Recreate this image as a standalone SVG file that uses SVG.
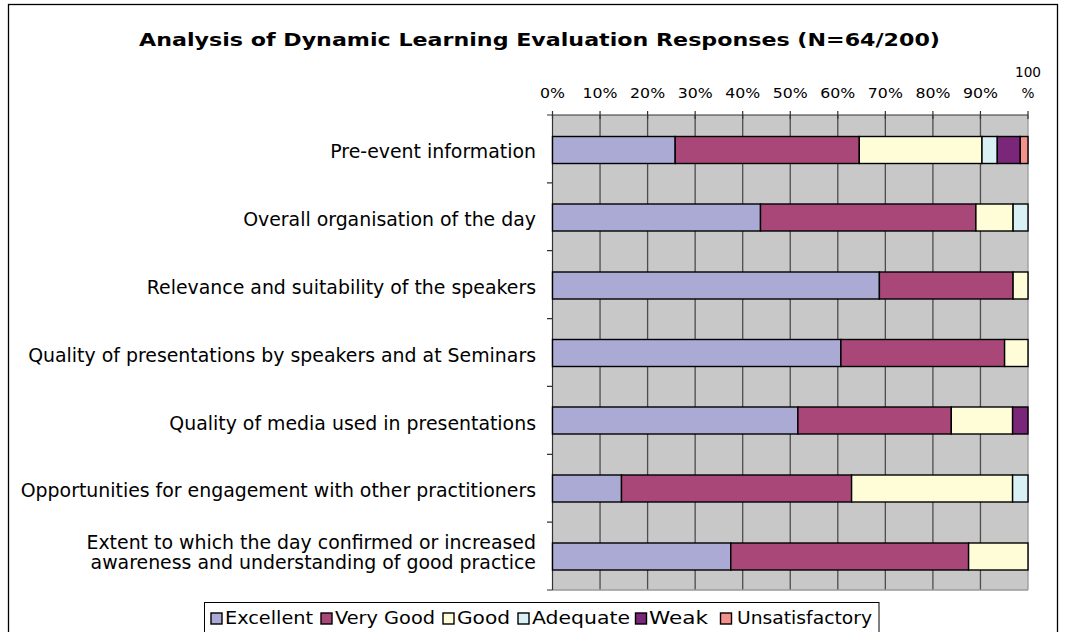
<svg xmlns="http://www.w3.org/2000/svg" width="1067" height="632" viewBox="0 0 1067 632">
<style>
.t{font-family:"DejaVu Sans","Verdana",sans-serif;fill:#000}
.title{font-size:18.5px;font-weight:bold}
.cat{font-size:18.9px;text-anchor:end}
.ax{font-size:14.5px;text-anchor:middle}
.lg{font-size:17px}
.seg{stroke:#000;stroke-width:1.4}
.ex{fill:#AAAAD5}.vg{fill:#A94878}.gd{fill:#FFFCD8}.aq{fill:#D9F1F5}.wk{fill:#7A2679}.us{fill:#F4918A}
.grid{stroke:#4d4d4d;stroke-width:1.3}
.tick{stroke:#333;stroke-width:1.2}
</style>
<rect x="0" y="0" width="1067" height="632" fill="#fff"/>
<rect x="8.5" y="4.5" width="1049" height="640" fill="#fff" stroke="#000" stroke-width="1.3"/>
<text id="title" class="t title" x="139" y="46" textLength="801" lengthAdjust="spacingAndGlyphs">Analysis of Dynamic Learning Evaluation Responses (N=64/200)</text>

<g id="plot">
<rect x="552.5" y="115" width="475.5" height="475" fill="#C8C8C8"/>
<path class="grid" d="M600.05 115V590M647.6 115V590M695.15 115V590M742.7 115V590M790.25 115V590M837.8 115V590M885.35 115V590M932.9 115V590M980.45 115V590"/>
<path d="M1028 115V590M552.5 590H1028" stroke="#9a9a9a" stroke-width="1.3" fill="none"/>
<path d="M552.5 115V590" stroke="#333" stroke-width="1.2"/>
</g>

<g id="axis">
<path class="tick" d="M552.5 115H1028M552.5 111V119M600.05 111V119M647.6 111V119M695.15 111V119M742.7 111V119M790.25 111V119M837.8 111V119M885.35 111V119M932.9 111V119M980.45 111V119M1028 111V119"/>
<path class="tick" d="M547 115H552.5M547 182.9H552.5M547 250.7H552.5M547 318.6H552.5M547 386.4H552.5M547 454.3H552.5M547 522.1H552.5M547 590H552.5"/>
<text class="t ax" x="552.5" y="98" textLength="25" lengthAdjust="spacingAndGlyphs">0%</text>
<text class="t ax" x="600.05" y="98" textLength="35" lengthAdjust="spacingAndGlyphs">10%</text>
<text class="t ax" x="647.6" y="98" textLength="35" lengthAdjust="spacingAndGlyphs">20%</text>
<text class="t ax" x="695.15" y="98" textLength="35" lengthAdjust="spacingAndGlyphs">30%</text>
<text class="t ax" x="742.7" y="98" textLength="35" lengthAdjust="spacingAndGlyphs">40%</text>
<text class="t ax" x="790.25" y="98" textLength="35" lengthAdjust="spacingAndGlyphs">50%</text>
<text class="t ax" x="837.8" y="98" textLength="35" lengthAdjust="spacingAndGlyphs">60%</text>
<text class="t ax" x="885.35" y="98" textLength="35" lengthAdjust="spacingAndGlyphs">70%</text>
<text class="t ax" x="932.9" y="98" textLength="35" lengthAdjust="spacingAndGlyphs">80%</text>
<text class="t ax" x="980.45" y="98" textLength="35" lengthAdjust="spacingAndGlyphs">90%</text>
<text class="t ax" x="1028" y="77" textLength="26" lengthAdjust="spacingAndGlyphs">100</text>
<text class="t ax" x="1028" y="98" textLength="13" lengthAdjust="spacingAndGlyphs">%</text>
</g>

<g id="cat1">
<text class="t cat" x="536" y="158">Pre-event information</text>
<rect class="seg ex" x="552.5" y="136.5" width="122.7" height="27"/>
<rect class="seg vg" x="675.2" y="136.5" width="184.1" height="27"/>
<rect class="seg gd" x="859.3" y="136.5" width="122.7" height="27"/>
<rect class="seg aq" x="982" y="136.5" width="15.3" height="27"/>
<rect class="seg wk" x="997.3" y="136.5" width="23" height="27"/>
<rect class="seg us" x="1020.3" y="136.5" width="7.7" height="27"/>
</g>
<g id="cat2">
<text class="t cat" x="536" y="226">Overall organisation of the day</text>
<rect class="seg ex" x="552.5" y="204" width="208" height="27"/>
<rect class="seg vg" x="760.5" y="204" width="215.4" height="27"/>
<rect class="seg gd" x="975.9" y="204" width="37.2" height="27"/>
<rect class="seg aq" x="1013.1" y="204" width="14.9" height="27"/>
</g>
<g id="cat3">
<text class="t cat" x="536" y="294">Relevance and suitability of the speakers</text>
<rect class="seg ex" x="552.5" y="272" width="326.9" height="27"/>
<rect class="seg vg" x="879.4" y="272" width="133.7" height="27"/>
<rect class="seg gd" x="1013.1" y="272" width="14.9" height="27"/>
</g>
<g id="cat4">
<text class="t cat" x="536" y="361.5">Quality of presentations by speakers and at Seminars</text>
<rect class="seg ex" x="552.5" y="339.5" width="288.4" height="27"/>
<rect class="seg vg" x="840.9" y="339.5" width="163.7" height="27"/>
<rect class="seg gd" x="1004.6" y="339.5" width="23.4" height="27"/>
</g>
<g id="cat5">
<text class="t cat" x="536" y="429.5">Quality of media used in presentations</text>
<rect class="seg ex" x="552.5" y="407" width="245.4" height="27"/>
<rect class="seg vg" x="797.9" y="407" width="153.4" height="27"/>
<rect class="seg gd" x="951.3" y="407" width="61.3" height="27"/>
<rect class="seg wk" x="1012.6" y="407" width="15.4" height="27"/>
</g>
<g id="cat6">
<text class="t cat" x="536" y="497">Opportunities for engagement with other practitioners</text>
<rect class="seg ex" x="552.5" y="475" width="69" height="27"/>
<rect class="seg vg" x="621.5" y="475" width="230.1" height="27"/>
<rect class="seg gd" x="851.6" y="475" width="161" height="27"/>
<rect class="seg aq" x="1012.6" y="475" width="15.4" height="27"/>
</g>
<g id="cat7">
<text class="t cat" x="536" y="549">Extent to which the day confirmed or increased</text>
<text class="t cat" x="536" y="569">awareness and understanding of good practice</text>
<rect class="seg ex" x="552.5" y="543" width="178.3" height="27"/>
<rect class="seg vg" x="730.8" y="543" width="237.8" height="27"/>
<rect class="seg gd" x="968.6" y="543" width="59.4" height="27"/>
</g>

<g id="legend">
<rect x="204.5" y="602.5" width="674.5" height="40" fill="#fff" stroke="#000" stroke-width="1"/>
<rect class="seg ex" x="211" y="613" width="11" height="11" stroke-width="1.2"/>
<text class="t lg" x="225" y="624" textLength="88" lengthAdjust="spacingAndGlyphs">Excellent</text>
<rect class="seg vg" x="321" y="613" width="11" height="11" stroke-width="1.2"/>
<text class="t lg" x="335" y="624" textLength="100" lengthAdjust="spacingAndGlyphs">Very Good</text>
<rect class="seg gd" x="443" y="613" width="11" height="11" stroke-width="1.2"/>
<text class="t lg" x="457" y="624" textLength="53" lengthAdjust="spacingAndGlyphs">Good</text>
<rect class="seg aq" x="518" y="613" width="11" height="11" stroke-width="1.2"/>
<text class="t lg" x="532" y="624" textLength="98" lengthAdjust="spacingAndGlyphs">Adequate</text>
<rect class="seg wk" x="635.5" y="613" width="11" height="11" stroke-width="1.2"/>
<text class="t lg" x="649" y="624" textLength="59" lengthAdjust="spacingAndGlyphs">Weak</text>
<rect class="seg us" x="720.5" y="613" width="11" height="11" stroke-width="1.2"/>
<text class="t lg" x="737" y="624" textLength="135" lengthAdjust="spacingAndGlyphs">Unsatisfactory</text>
</g>
</svg>
